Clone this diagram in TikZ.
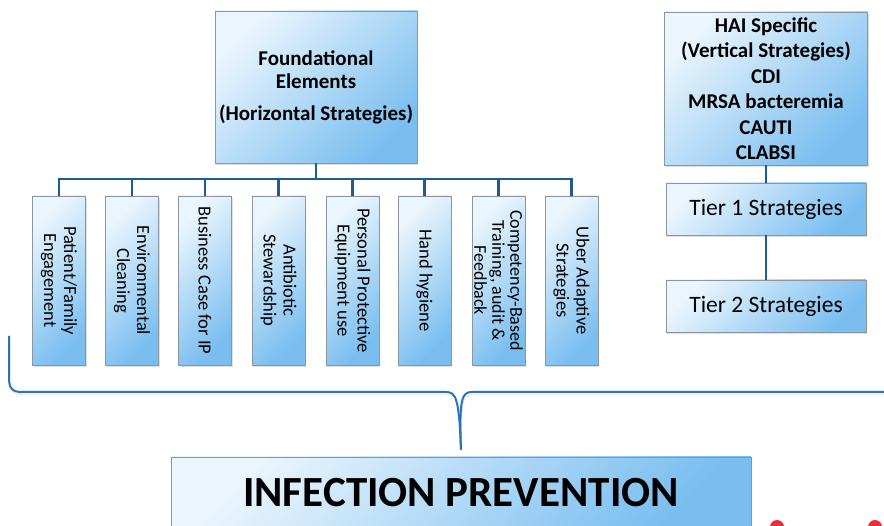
\documentclass[tikz,border=0pt]{standalone}
\usepackage{fontspec}
\setmainfont{Carlito}
\usetikzlibrary{positioning, shadows}
\definecolor{skylight}{RGB}{234,245,253}
\definecolor{skydark}{RGB}{122,190,240}
\definecolor{boxedge}{RGB}{140,150,160}
\definecolor{treeblue}{RGB}{30,92,150}
\definecolor{braceblue}{RGB}{40,115,185}
\definecolor{dotred}{RGB}{232,48,58}

\tikzset{
  skybox/.style={draw=boxedge, line width=0.6pt, top color=skylight, bottom color=skydark,
    shading angle=45, drop shadow={opacity=0.25, shadow xshift=1pt, shadow yshift=-2pt},
    align=center, inner sep=2pt},
  pillar/.style={skybox, rotate=-90, minimum width=169pt, minimum height=53pt,
    font=\fontsize{18.5}{20}\selectfont},
  tierbox/.style={skybox, minimum width=200pt, minimum height=52pt,
    font=\fontsize{23.5}{27}\selectfont},
  trunk/.style={draw=treeblue, line width=2.5pt},
  link/.style={draw=treeblue, line width=2pt}
}

\begin{document}
\begin{tikzpicture}[x=1pt, y=-1pt]
\clip (0,0) rectangle (884,526);

% horizontal strategies
\node[skybox, minimum width=202pt, minimum height=152pt, font=\fontsize{21}{23}\selectfont\bfseries]
  (found) at (316,87) {Foundational\\Elements\\[9pt](Horizontal Strategies)};

\node[pillar] (v1) at (59,280.5) {Patient/Family\\Engagement};
\node[pillar] (v2) at (132,280.5) {Environmental\\Cleaning};
\node[pillar] (v3) at (205,280.5) {Business Case for IP};
\node[pillar] (v4) at (278.5,280.5) {Antibiotic\\Stewardship};
\node[pillar] (v5) at (352.5,280.5) {Personal Protective\\Equipment use};
\node[pillar] (v6) at (424.5,280.5) {Hand hygiene};
\node[pillar, font=\fontsize{18}{18}\selectfont] (v7) at (498.5,280.5) {Competency-Based\\Training, audit \&\\Feedback};
\node[pillar] (v8) at (571.5,280.5) {Uber Adaptive\\Strategies};

\coordinate (bus) at (316,179);
\foreach \i in {1,...,8}
  \draw[trunk] (found.south) |- (v\i.west |- bus) -- (v\i.west);

% vertical strategies
\node[skybox, minimum width=203pt, minimum height=153pt, font=\fontsize{21}{25.5}\selectfont\bfseries]
  (hai) at (766,88.5) {HAI Specific\\(Vertical Strategies)\\CDI\\MRSA bacteremia\\CAUTI\\CLABSI};
\node[tierbox] (tier1) at (766,209) {Tier 1 Strategies};
\node[tierbox] (tier2) at (766,306) {Tier 2 Strategies};
\draw[link] (hai.south) -- (tier1.north);
\draw[link] (tier1.south) -- (tier2.north);

% brace over both groups
\node[skybox, draw=braceblue!70, minimum width=580pt, minimum height=72pt, font=\fontsize{43}{48}\selectfont\bfseries]
  (ip) at (461,493) {INFECTION PREVENTION};
\coordinate (tip) at ([yshift=7pt]ip.north);
\draw[braceblue, line width=2pt, preaction={draw=black!18, transform canvas={shift={(1pt,-2.5pt)}}}]
  (9,336) -- (9,378) .. controls (9,388) and (12,392) .. (22,392) -- (446,392)
  .. controls (456,392) and (459,398) .. (tip);
\draw[braceblue, line width=2pt, preaction={draw=black!18, transform canvas={shift={(1pt,-2.5pt)}}}]
  (909,336) -- (909,378) .. controls (909,388) and (906,392) .. (896,392) -- (472,392)
  .. controls (462,392) and (459,398) .. (tip);

\fill[dotred] (777,527) circle (7pt);
\fill[dotred] (875,527) circle (7pt);
\end{tikzpicture}
\end{document}
